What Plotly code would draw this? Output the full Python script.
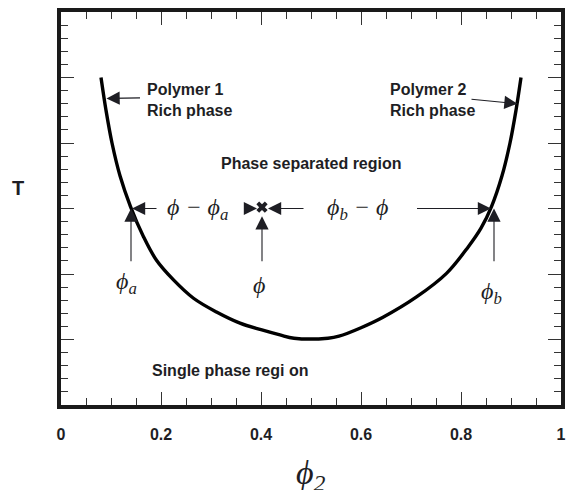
import plotly.graph_objects as go

# ---- data ----
phi = [0.080, 0.090, 0.102, 0.118, 0.139, 0.165, 0.191, 0.225, 0.265, 0.311, 0.358, 0.400,
       0.438, 0.466, 0.534, 0.556, 0.600, 0.644, 0.711, 0.771, 0.814, 0.840, 0.861, 0.882,
       0.898, 0.910, 0.920]
temp = [5.00, 4.50, 4.00, 3.50, 3.03, 2.57, 2.21, 1.91, 1.63, 1.42, 1.25, 1.15,
        1.07, 1.02, 1.02, 1.05, 1.18, 1.34, 1.65, 2.01, 2.41, 2.70, 3.03, 3.50,
        4.00, 4.50, 5.00]

x_ticks = [0, 0.2, 0.4, 0.6, 0.8, 1]
x_tick_labels = ["0", "0.2", "0.4", "0.6", "0.8", "1"]

tie_T = 3.0          # tie-line temperature
phi_a = 0.140
phi_mix = 0.402
phi_b = 0.862

INK = "#1e1e24"
SANS = "Liberation Sans, Arial, sans-serif"
SERIF = "Liberation Serif, Times New Roman, serif"

fig = go.Figure()
fig.add_trace(go.Scatter(x=phi, y=temp, mode="lines",
                         line=dict(color="black", width=3.4, shape="spline", smoothing=1.0),
                         hoverinfo="skip", showlegend=False))
fig.add_trace(go.Scatter(x=[phi_mix], y=[tie_T + 0.02], mode="markers",
                         marker=dict(symbol="x", size=10, color=INK, line=dict(width=0)),
                         hoverinfo="skip", showlegend=False))

ann = []

def text(x, y, s, size=16, bold=True, serif=False, xanchor="center", yanchor="middle", xref="x", yref="y"):
    ann.append(dict(x=x, y=y, xref=xref, yref=yref, text=s,
                    showarrow=False, xanchor=xanchor, yanchor=yanchor, align="left",
                    font=dict(family=SERIF if serif else SANS, size=size, color=INK,
                              weight="bold" if bold else "normal")))

def arrow(x0, y0, x1, y1):
    ann.append(dict(x=x1, y=y1, ax=x0, ay=y0, xref="x", yref="y", axref="x", ayref="y",
                    text="", showarrow=True, arrowhead=2, arrowsize=2.4, arrowwidth=1.1,
                    arrowcolor=INK, standoff=0))

text(0.168, 4.66, "Polymer 1<br>Rich phase", xanchor="left")
text(0.654, 4.66, "Polymer 2<br>Rich phase", xanchor="left")
text(0.50, 3.68, "Phase separated region")
text(0.178, 0.52, "Single phase regi on", xanchor="left")

text(0.272, tie_T, "<i>ϕ − ϕ<sub>a</sub></i>", size=24, bold=False, serif=True)
text(0.593, tie_T, "<i>ϕ<sub>b</sub> − ϕ</i>", size=24, bold=False, serif=True)
text(0.131, 1.86, "<i>ϕ<sub>a</sub></i>", size=24, bold=False, serif=True)
text(0.395, 1.83, "<i>ϕ</i>", size=24, bold=False, serif=True)
text(0.861, 1.71, "<i>ϕ<sub>b</sub></i>", size=24, bold=False, serif=True)

text(-0.086, 0.552, "T", size=20, xref="paper", yref="paper")
text(0.5, -0.178, "<i>ϕ<sub>2</sub></i>", size=34, bold=False, serif=True, xref="paper", yref="paper")

arrow(0.161, 4.69, 0.091, 4.68)
arrow(0.818, 4.67, 0.913, 4.60)
arrow(0.194, tie_T, phi_a + 0.002, tie_T)
arrow(0.364, tie_T, phi_mix - 0.010, tie_T)
arrow(0.488, tie_T, phi_mix + 0.012, tie_T)
arrow(0.709, tie_T, phi_b - 0.002, tie_T)
arrow(phi_a, 2.17, phi_a, tie_T)
arrow(phi_mix, 2.17, phi_mix, tie_T - 0.12)
arrow(phi_b + 0.004, 2.17, phi_b + 0.004, tie_T)

axis_common = dict(showline=True, linewidth=3.5, linecolor="#1a1a1a", mirror="ticks",
                   ticks="inside", tickcolor="#333", tickwidth=1.3, ticklen=13,
                   showgrid=False, zeroline=False, automargin=False)

fig.update_layout(
    width=566, height=490,
    margin=dict(l=61, r=5, t=12, b=85, autoexpand=False),
    paper_bgcolor="white", plot_bgcolor="white",
    annotations=ann,
    xaxis=dict(range=[0, 1], tickvals=x_ticks, ticktext=x_tick_labels,
               minor=dict(ticks="inside", dtick=0.05, ticklen=7, tickcolor="#333", tickwidth=1.2),
               tickfont=dict(family=SANS, size=16, color=INK, weight="bold"),
               ticklabelstandoff=12, **axis_common),
    yaxis=dict(range=[0, 6], dtick=1, showticklabels=False,
               minor=dict(ticks="inside", dtick=0.2, ticklen=7, tickcolor="#333", tickwidth=1.2),
               **axis_common),
)

fig.write_html("out.html", config={"displayModeBar": False},
               post_script="document.body.style.margin='0';")
